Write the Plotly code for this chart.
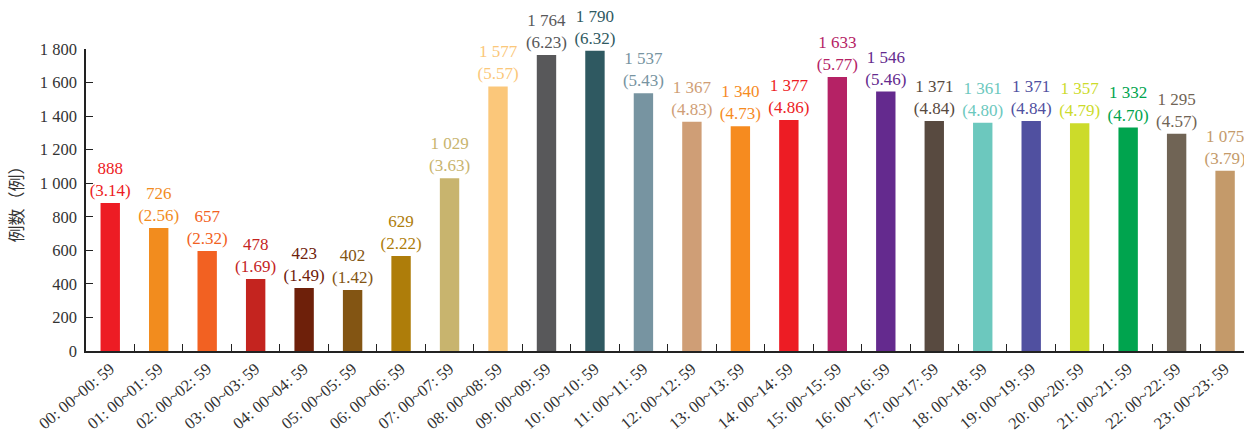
import plotly.graph_objects as go

categories = [f"{h:02d}: 00~{h:02d}: 59" for h in range(24)]
bar_values = [882, 733, 596, 429, 375, 363, 566, 1029, 1577, 1764, 1790, 1537,
              1367, 1340, 1377, 1633, 1546, 1371, 1361, 1371, 1357, 1332, 1295, 1075]
count_labels = ["888", "726", "657", "478", "423", "402", "629", "1 029", "1 577", "1 764",
                "1 790", "1 537", "1 367", "1 340", "1 377", "1 633", "1 546", "1 371",
                "1 361", "1 371", "1 357", "1 332", "1 295", "1 075"]
pct_labels = ["3.14", "2.56", "2.32", "1.69", "1.49", "1.42", "2.22", "3.63", "5.57", "6.23",
              "6.32", "5.43", "4.83", "4.73", "4.86", "5.77", "5.46", "4.84", "4.80", "4.84",
              "4.79", "4.70", "4.57", "3.79"]
colors = ["#ED1C24", "#F28C1E", "#F26122", "#C4241F", "#6E200A", "#835513", "#AE7D0A",
          "#C8B46E", "#FBC77A", "#58585A", "#2F5961", "#7794A1", "#CF9E76", "#F68B1F",
          "#ED1C24", "#B52265", "#642A8E", "#584A40", "#6CC8BE", "#5050A0", "#CCDB2A",
          "#00A44E", "#706455", "#C49A6A"]
y_ticks = [0, 200, 400, 600, 800, 1000, 1200, 1400, 1600, 1800]
y_ticktext = ["0", "200", "400", "600", "800", "1 000", "1 200", "1 400", "1 600", "1 800"]

texts = [f"{c}<br>({p})" for c, p in zip(count_labels, pct_labels)]

fig = go.Figure(go.Bar(
    x=categories, y=bar_values, width=0.4,
    marker=dict(color=colors, line=dict(width=0)),
    text=texts, textposition="outside", cliponaxis=False, constraintext="none",
    textfont=dict(family="Liberation Serif", size=17, color=colors),
    hoverinfo="skip",
))

fig.update_layout(
    width=1244, height=432,
    margin=dict(l=86, r=0, t=49, b=81),
    plot_bgcolor="white", paper_bgcolor="white",
    showlegend=False,
    font=dict(family="Liberation Serif", size=16, color="#333333"),
)
fig.update_xaxes(
    type="category", range=[-0.5, 23.39], automargin=False,
    tickson="boundaries", ticks="inside", ticklen=7, tickcolor="#222222",
    tickangle=-40, showline=True, linecolor="#222222", linewidth=1.5,
    showgrid=False, tickfont=dict(family="Liberation Serif", size=16.5, color="#333333"),
)
fig.update_yaxes(
    range=[0, 1800], tickvals=y_ticks, ticktext=y_ticktext, automargin=False,
    ticks="inside", ticklen=7, tickcolor="#222222",
    showline=True, linecolor="#222222", linewidth=1.5, showgrid=False, zeroline=False,
    tickfont=dict(family="Liberation Serif", size=16.5, color="#333333"),
    ticklabelstandoff=4,
    title=dict(text="例数（例）", font=dict(family="Noto Sans CJK SC", size=17, color="#333333"),
               standoff=12),
)

fig.write_html("out.html")
